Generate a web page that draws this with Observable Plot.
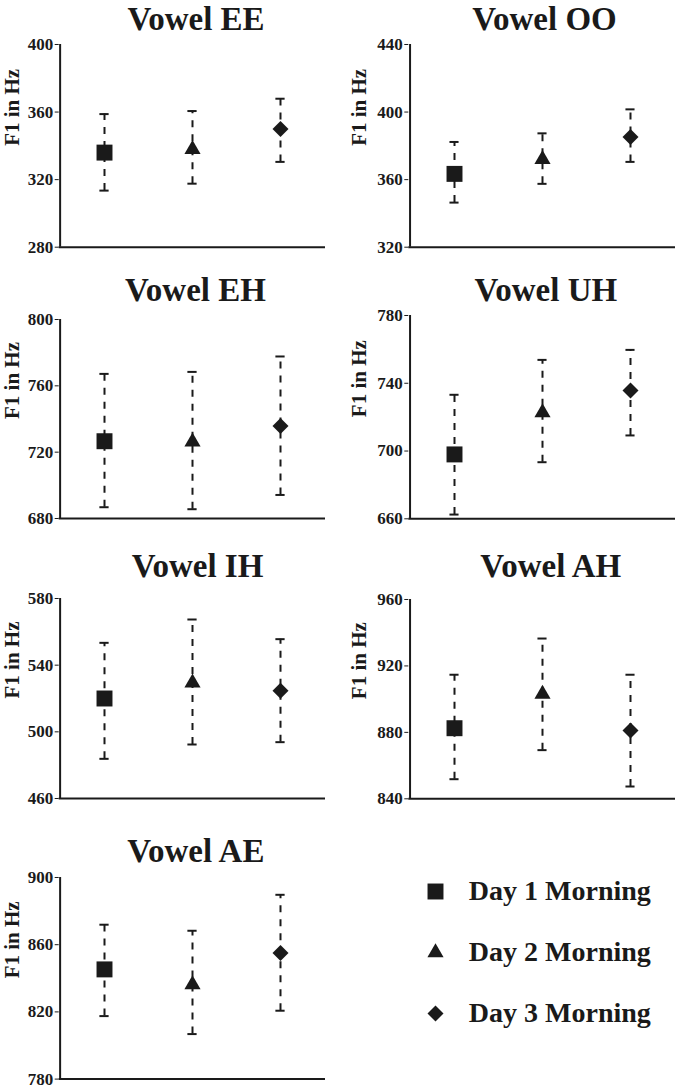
<!DOCTYPE html>
<html><head><meta charset="utf-8">
<script src="https://cdn.jsdelivr.net/npm/d3@7"></script>
<script src="https://cdn.jsdelivr.net/npm/@observablehq/plot@0.6"></script>
<style>
body{margin:0;background:#fff;}
#wrap{position:relative;width:677px;height:1089px;overflow:hidden;background:#fff;font-family:"Liberation Serif","LiberationSerif","Tinos","Times New Roman","DejaVu Serif",serif;color:#1a1a1a;}
.panel{position:absolute;}
.title{position:absolute;font-size:33px;font-weight:bold;white-space:nowrap;line-height:26px;transform:translateX(-50%);}
</style></head><body><div id="wrap"></div>
<script>
// ---- data ----
const days = ["Day 1 Morning", "Day 2 Morning", "Day 3 Morning"];
const vowels = ["EE", "OO", "EH", "UH", "IH", "AH", "AE"];
const yLabel = "F1 in Hz";
const yMin = [280, 320, 680, 660, 460, 840, 780];
const yMax = [400, 440, 800, 780, 580, 960, 900];
const tickStep = 40;
const day1Mean = [336, 363.4, 726.6, 698, 520, 882.5, 845.3];
const day2Mean = [338, 372, 726.2, 722.7, 529.4, 903.1, 836.2];
const day3Mean = [350, 385.2, 735.8, 735.7, 524.6, 881.1, 855];
const day1Low = [313.5, 346.4, 686.8, 662.5, 483.8, 851.8, 817.5];
const day2Low = [317.6, 357.5, 685.6, 693.4, 492.4, 869.3, 806.8];
const day3Low = [330.5, 370.5, 694.2, 709.2, 493.8, 847.4, 820.7];
const day1High = [358.8, 382.3, 767.2, 733.2, 553.4, 914.7, 871.9];
const day2High = [360.6, 387.4, 768.4, 753.8, 567.4, 936.5, 868.3];
const day3High = [367.9, 401.6, 777.7, 759.7, 555.6, 914.7, 889.7];

// ---- layout (pixels) ----
const means = [day1Mean, day2Mean, day3Mean];
const lows = [day1Low, day2Low, day3Low];
const highs = [day1High, day2High, day3High];
const colL = {left: 0, width: 340, axisX: 58.7, right: 325};
const colR = {left: 340, width: 337, axisX: 408.3, right: 675};
const layout = [
  {...colL, top: 44.3, bottom: 247, titleX: 196, titleBase: 29.5},
  {...colR, top: 44.3, bottom: 247, titleX: 544.5, titleBase: 29.5},
  {...colL, top: 319.3, bottom: 518.3, titleX: 195.5, titleBase: 300.7},
  {...colR, top: 315, bottom: 518.3, titleX: 545.8, titleBase: 300.7},
  {...colL, top: 598.3, bottom: 798.3, titleX: 197.5, titleBase: 576.7},
  {...colR, top: 599, bottom: 798.3, titleX: 550.8, titleBase: 577},
  {...colL, top: 876.7, bottom: 1078.3, titleX: 195.8, titleBase: 861.7}
];
const ink = "#1a1a1a";
const shapes = [
  {symbol: "square", r: 9},
  {symbol: "triangle", r: 6},
  {symbol: "diamond2", r: 7.2}
];
const font = '"Liberation Serif", "LiberationSerif", "Tinos", "Times New Roman", "DejaVu Serif", serif';
const wrap = document.getElementById("wrap");

vowels.forEach((v, i) => {
  const L = layout[i];
  const padT = 14, padB = 10;
  const h = (L.bottom - L.top) + padT + padB;
  const mL = L.axisX - L.left, mR = L.left + L.width - L.right;
  const bw = (L.right - L.axisX) / days.length;
  const capInset = (bw - 10) / 2;
  const rows = days.map((d, j) => ({day: d, mean: means[j][i], low: lows[j][i], high: highs[j][i]}));

  const t = document.createElement("div");
  t.className = "title";
  t.textContent = "Vowel " + v;
  t.style.left = L.titleX + "px";
  t.style.top = (L.titleBase - 24) + "px";
  wrap.appendChild(t);

  const chart = Plot.plot({
    width: L.width, height: h,
    marginLeft: mL, marginRight: mR, marginTop: padT, marginBottom: padB,
    style: {fontFamily: font, fontSize: "17px", fontWeight: "bold", color: ink, background: "transparent", overflow: "visible"},
    x: {type: "band", domain: days, padding: 0, axis: null},
    y: {domain: [yMin[i], yMax[i]], ticks: d3.range(yMin[i], yMax[i] + 1, tickStep), tickSize: 4, tickPadding: 2, label: null},
    marks: [
      Plot.ruleY([yMin[i]], {stroke: ink, strokeWidth: 2}),
      Plot.ruleX([days[0]], {dx: -bw / 2, stroke: ink, strokeWidth: 2}),
      Plot.text([yLabel], {frameAnchor: "left", dx: -Math.min(49.4, mL - 11.5), rotate: -90, fontSize: 21, fontWeight: "bold", fill: ink}),
      Plot.ruleX(rows, {x: "day", y1: "low", y2: "high", stroke: ink, strokeWidth: 2, strokeDasharray: "7,7"}),
      Plot.tickY(rows, {x: "day", y: "low", inset: capInset, stroke: ink, strokeWidth: 2}),
      Plot.tickY(rows, {x: "day", y: "high", inset: capInset, stroke: ink, strokeWidth: 2}),
      ...shapes.map((s, j) => Plot.dot([rows[j]], {x: "day", y: "mean", symbol: s.symbol, r: s.r, fill: ink, stroke: "none"}))
    ]
  });
  const holder = document.createElement("div");
  holder.className = "panel";
  holder.style.left = L.left + "px";
  holder.style.top = (L.top - padT) + "px";
  holder.appendChild(chart);
  wrap.appendChild(holder);
});

// ---- legend ----
const legend = Plot.plot({
  width: 337, height: 190, margin: 0,
  style: {fontFamily: font, fontWeight: "bold", color: ink, background: "transparent", overflow: "visible"},
  y: {type: "point", domain: days, range: [30.5, 152.8], padding: 0, axis: null},
  marks: [
    ...shapes.map((s, j) => Plot.dot([days[j]], {y: d => d, frameAnchor: "left", dx: 95, symbol: s.symbol, r: s.r, fill: ink, stroke: "none"})),
    Plot.text(days, {y: d => d, text: d => d, frameAnchor: "left", dx: 128.3, textAnchor: "start", fontSize: 28, fontWeight: "bold", fill: ink})
  ]
});
const lh = document.createElement("div");
lh.className = "panel";
lh.style.left = "340px";
lh.style.top = "860px";
lh.appendChild(legend);
wrap.appendChild(lh);
</script>
</body></html>
